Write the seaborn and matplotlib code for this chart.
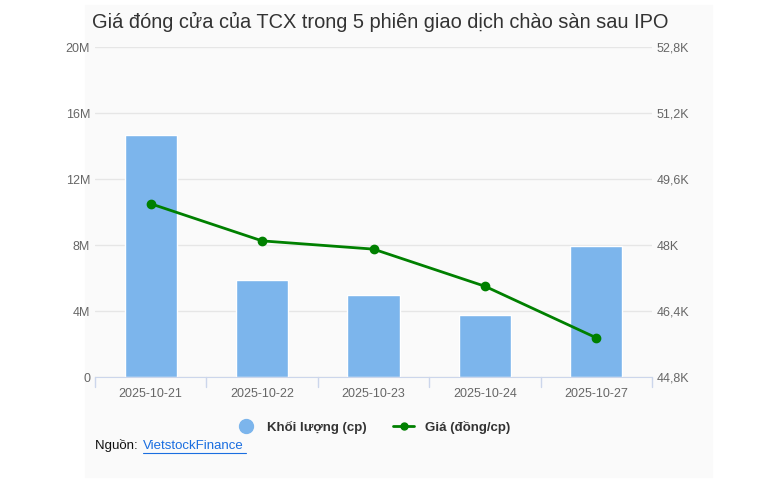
import matplotlib
matplotlib.use("Agg")
import matplotlib.pyplot as plt
import matplotlib.ticker as mticker
import numpy as np
import seaborn as sns
from matplotlib.patches import Rectangle
from matplotlib.lines import Line2D

dates = ["2025-10-21", "2025-10-22", "2025-10-23", "2025-10-24", "2025-10-27"]
volume = [14.65e6, 5.85e6, 4.95e6, 3.75e6, 7.95e6]
price = [49000, 48100, 47900, 47000, 45750]

sns.set_style("white")
plt.rcParams["font.family"] = ["Liberation Sans", "DejaVu Sans"]

fig = plt.figure(figsize=(7.61, 4.82), dpi=100)
fig.patches.append(Rectangle((85 / 761, 0.01), 627 / 761, 0.98, transform=fig.transFigure,
                             color="#fafafa", zorder=-10))
ax = fig.add_axes([95 / 761, 1 - 377 / 482, 557 / 761, 330 / 482])
ax.set_facecolor("none")
x = np.arange(len(dates))
sns.barplot(x=x, y=volume, ax=ax, color="#7cb5ec", width=0.47, saturation=1)
ax.set_xlim(-0.5, 4.5)
ax.set_ylim(0, 20e6)
ax.set_yticks(np.arange(0, 20.1e6, 4e6))
ax.yaxis.set_major_formatter(mticker.FuncFormatter(lambda v, p: "0" if v == 0 else f"{v/1e6:.0f}M"))
ax.set_xticks(x)
ax.set_xticklabels(dates)
ax.grid(axis="y", color="#e6e6e6", lw=1)
for s in ["top", "right", "left"]:
    ax.spines[s].set_visible(False)
ax.spines["bottom"].set_color("#ccd6eb")
ax.tick_params(axis="both", colors="#666666", labelsize=9, length=0)
ax.tick_params(axis="x", pad=8)
for b in np.arange(-0.5, 4.6, 1):
    ax.axvline(b, ymin=-0.03, ymax=0, color="#ccd6eb", lw=1, clip_on=False)

ax2 = ax.twinx()
ax2.plot(x, price, color="#008000", lw=2, marker="o", ms=6)
ax2.set_ylim(44800, 52800)
ax2.set_yticks(np.arange(44800, 52801, 1600))
ax2.yaxis.set_major_formatter(mticker.FuncFormatter(lambda v, p: f"{v/1000:.1f}K".replace(".0K", "K").replace(".", ",")))
for s in ["top", "right", "left", "bottom"]:
    ax2.spines[s].set_visible(False)
ax2.tick_params(axis="y", colors="#666666", labelsize=9, length=0)

fig.text(0.5, 1 - 22 / 482, "Giá đóng cửa của TCX trong 5 phiên giao dịch chào sàn sau IPO",
         ha="center", va="center", fontsize=14.4, color="#333333")
handles = [Line2D([], [], marker="o", ls="none", color="#7cb5ec", ms=10),
           Line2D([], [], marker="o", color="#008000", lw=2, ms=5)]
fig.legend(handles, ["Khối lượng (cp)", "Giá (đồng/cp)"], loc="center",
           bbox_to_anchor=(0.49, 1 - 427 / 482), ncol=2, frameon=False,
           prop={"weight": "bold", "size": 9.5}, labelcolor="#333333", columnspacing=2, handlelength=1.6)
fig.text(95 / 761, 1 - 446 / 482, "Nguồn: ", fontsize=9.5, va="center", color="#111111")
fig.text(143 / 761, 1 - 446 / 482, "VietstockFinance", fontsize=9.5, va="center", color="#1a6ee0")
fig.add_artist(Line2D([143 / 761, 246 / 761], [1 - 453 / 482] * 2, color="#1a6ee0", lw=0.8))
fig.savefig("out.png", dpi=100)
